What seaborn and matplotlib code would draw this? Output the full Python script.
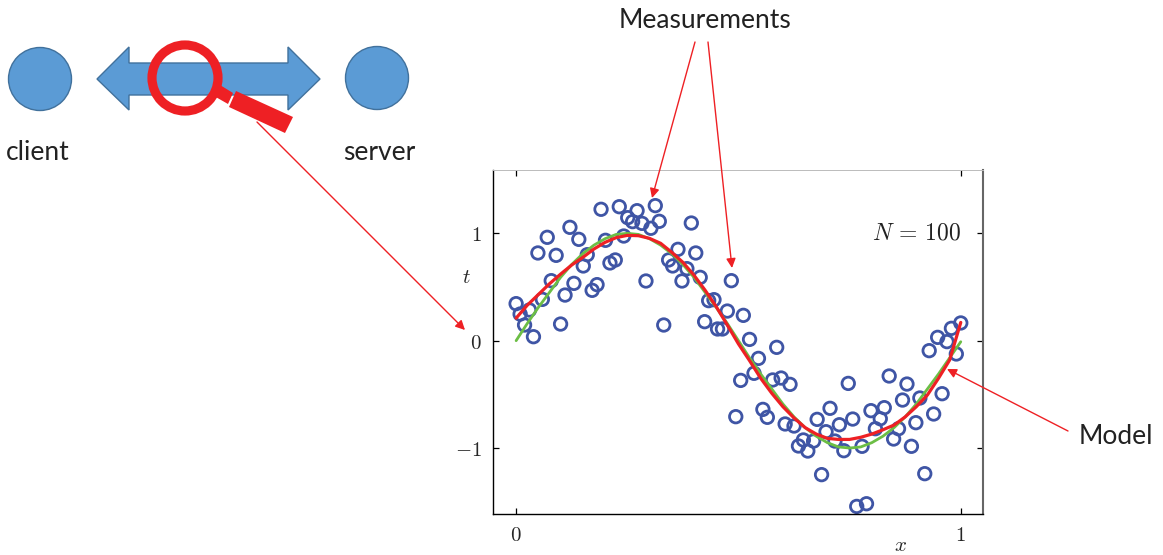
import numpy as np
import pandas as pd
import seaborn as sns
import matplotlib.pyplot as plt
from matplotlib.patches import Circle, Polygon

sns.set_style("white")
plt.rcParams["font.family"] = ["Lato", "DejaVu Sans"]
plt.rcParams["mathtext.fontset"] = "cm"

# measurements
meas_x = [0.000, 0.009, 0.030, 0.019, 0.039, 0.059, 0.079, 0.049, 0.070, 0.090,
          0.121, 0.141, 0.160, 0.151, 0.130, 0.110, 0.100, 0.171, 0.182, 0.191,
          0.232, 0.201, 0.242, 0.211, 0.223, 0.251, 0.262, 0.272, 0.283, 0.303,
          0.313, 0.322, 0.292, 0.332, 0.364, 0.343, 0.352, 0.384, 0.373, 0.404,
          0.394, 0.414, 0.433, 0.445, 0.484, 0.475, 0.424, 0.453, 0.464, 0.511,
          0.525, 0.586, 0.545, 0.535, 0.505, 0.577, 0.596, 0.616, 0.747, 0.839,
          0.879, 0.958, 0.908, 0.869, 0.828, 0.798, 0.706, 0.555, 0.565, 0.494,
          0.939, 0.819, 0.757, 0.677, 0.727, 0.899, 0.605, 0.625, 0.697, 0.808,
          0.860, 0.849, 0.669, 0.646, 0.635, 0.656, 0.717, 0.737, 0.778, 0.889,
          0.687, 0.919, 0.766, 0.788, 0.990, 0.929, 0.948, 0.969, 0.979, 1.000]
meas_t = [0.345, 0.248, 0.286, 0.146, 0.037, 0.385, 0.559, 0.817, 0.963, 0.795,
          1.056, 0.944, 0.801, 0.696, 0.534, 0.425, 0.155, 0.469, 0.522, 1.224,
          1.248, 0.935, 0.975, 0.724, 0.752, 1.146, 1.109, 1.211, 1.093, 1.047,
          1.258, 1.112, 0.556, 0.146, 0.851, 0.752, 0.696, 0.671, 0.556, 0.817,
          1.096, 0.590, 0.373, 0.382, 0.559, 0.276, 0.177, 0.109, 0.109, 0.236,
          0.012, -0.062, -0.165, -0.304, -0.370, -0.366, -0.348, -0.407, -0.398, -0.329,
          -0.404, -0.494, -0.534, -0.553, -0.624, -0.652, -0.630, -0.640, -0.714, -0.708,
          -0.683, -0.727, -0.730, -0.733, -0.783, -0.764, -0.776, -0.795, -0.848, -0.820,
          -0.820, -0.916, -0.935, -0.925, -0.981, -1.028, -0.935, -1.025, -0.984, -0.984,
          -1.248, -1.239, -1.544, -1.519, -0.124, -0.093, 0.031, -0.009, 0.115, 0.165]

# curves
curve_x = [0.000, 0.025, 0.050, 0.075, 0.100, 0.125, 0.150, 0.175, 0.200, 0.225,
           0.250, 0.275, 0.300, 0.325, 0.350, 0.375, 0.400, 0.425, 0.450, 0.475,
           0.500, 0.525, 0.550, 0.575, 0.600, 0.625, 0.650, 0.675, 0.700, 0.725,
           0.750, 0.775, 0.800, 0.825, 0.850, 0.875, 0.900, 0.925, 0.950, 0.975, 1.000]
true_t = [0.00, 0.16, 0.31, 0.45, 0.59, 0.71, 0.81, 0.89, 0.95, 0.99,
          1.00, 0.99, 0.95, 0.89, 0.81, 0.71, 0.59, 0.45, 0.31, 0.16,
          0.00, -0.16, -0.31, -0.45, -0.59, -0.71, -0.81, -0.89, -0.95, -0.99,
          -1.00, -0.99, -0.95, -0.89, -0.81, -0.71, -0.59, -0.45, -0.31, -0.16, -0.01]
model_t = [0.21, 0.33, 0.43, 0.53, 0.62, 0.705, 0.776, 0.854, 0.916, 0.96,
           0.981, 0.978, 0.953, 0.907, 0.823, 0.73, 0.61, 0.47, 0.317, 0.146,
           -0.03, -0.186, -0.35, -0.49, -0.615, -0.72, -0.81, -0.87, -0.91, -0.92,
           -0.92, -0.90, -0.87, -0.83, -0.786, -0.71, -0.615, -0.506, -0.35, -0.18, 0.17]

blue_dot = "#3F55A5"
green = "#6CBE45"
red = "#EE2024"
shape_blue = "#5B9BD5"
shape_edge = "#41719C"

W, H = 1163, 555
fig = plt.figure(figsize=(W / 100, H / 100), dpi=100)

# plot box placed to the pixel position of the reference
ax = fig.add_axes([493 / W, 1 - 513.5 / H, 490 / W, 343.5 / H])
sns.scatterplot(x=meas_x, y=meas_t, ax=ax, s=81, marker="o", facecolor="none",
                edgecolor=blue_dot, linewidth=2.0, zorder=2, clip_on=False)
sns.lineplot(x=curve_x, y=true_t, ax=ax, color=green, linewidth=2.0, zorder=3)
sns.lineplot(x=curve_x, y=model_t, ax=ax, color=red, linewidth=2.3, zorder=4)

ax.set_xlim(-0.052, 1.05)
ax.set_ylim(-1.61, 1.59)
ax.set_xticks([0, 1])
ax.set_yticks([-1, 0, 1])
ax.set_xticklabels(["$0$", "$1$"], fontsize=15)
ax.set_yticklabels(["$-1$", "$0$", "$1$"], fontsize=15)
ax.tick_params(direction="in", length=4, width=0.9, color="black",
               top=True, right=True, bottom=True, left=True, pad=8)
ax.spines["left"].set(color="black", linewidth=1.0)
ax.spines["bottom"].set(color="black", linewidth=1.0)
ax.spines["right"].set(color="#666666", linewidth=1.5)
ax.spines["top"].set(color="#bbbbbb", linewidth=0.7)
ax.text(0.80, 1.0, r"$N\,=\,100$", fontsize=17, va="center", ha="left", color="#222222")

# everything outside the plot goes on a pixel overlay
over = fig.add_axes([0, 0, 1, 1], facecolor="none", zorder=5)
over.set_xlim(0, W)
over.set_ylim(H, 0)
over.axis("off")

over.text(466, 277, "$t$", fontsize=15, ha="center", va="center")
over.text(900, 545, "$x$", fontsize=15, ha="center", va="center")

for cx, cy in [(40, 79), (377, 78)]:
    over.add_patch(Circle((cx, cy), 31.5, facecolor=shape_blue, edgecolor=shape_edge, linewidth=1))

over.add_patch(Polygon([(97, 79), (129, 47), (129, 63), (288, 63), (288, 47), (320, 79),
                        (288, 110), (288, 95), (129, 95), (129, 110)],
                       facecolor=shape_blue, edgecolor=shape_edge, linewidth=1))

# magnifying glass
over.add_patch(Circle((185, 78), 33, facecolor="none", edgecolor=red, linewidth=6.6))
over.add_patch(Polygon([(220, 85), (233, 93), (228, 104), (214, 96)], facecolor=red, edgecolor="none"))
over.add_patch(Polygon([(236, 91), (293, 117), (285, 133), (229, 107)], facecolor=red, edgecolor="none"))

text_kw = dict(fontsize=19, color="#222222", ha="center", va="center")
over.text(38, 152, "client", **text_kw)
over.text(379, 152, "server", **text_kw)
over.text(705, 20, "Measurements", **text_kw)
over.text(1116, 437, "Model", **text_kw)

arrows = [((257, 122), (465, 330)),
          ((695, 42), (652, 198)),
          ((708, 42), (732, 268)),
          ((1068, 431), (947, 369))]
for start, end in arrows:
    over.annotate("", xy=end, xytext=start,
                  arrowprops=dict(arrowstyle="-|>", color=red, linewidth=1.0,
                                  mutation_scale=14, shrinkA=0, shrinkB=0))

fig.savefig("out.png", dpi=100)
